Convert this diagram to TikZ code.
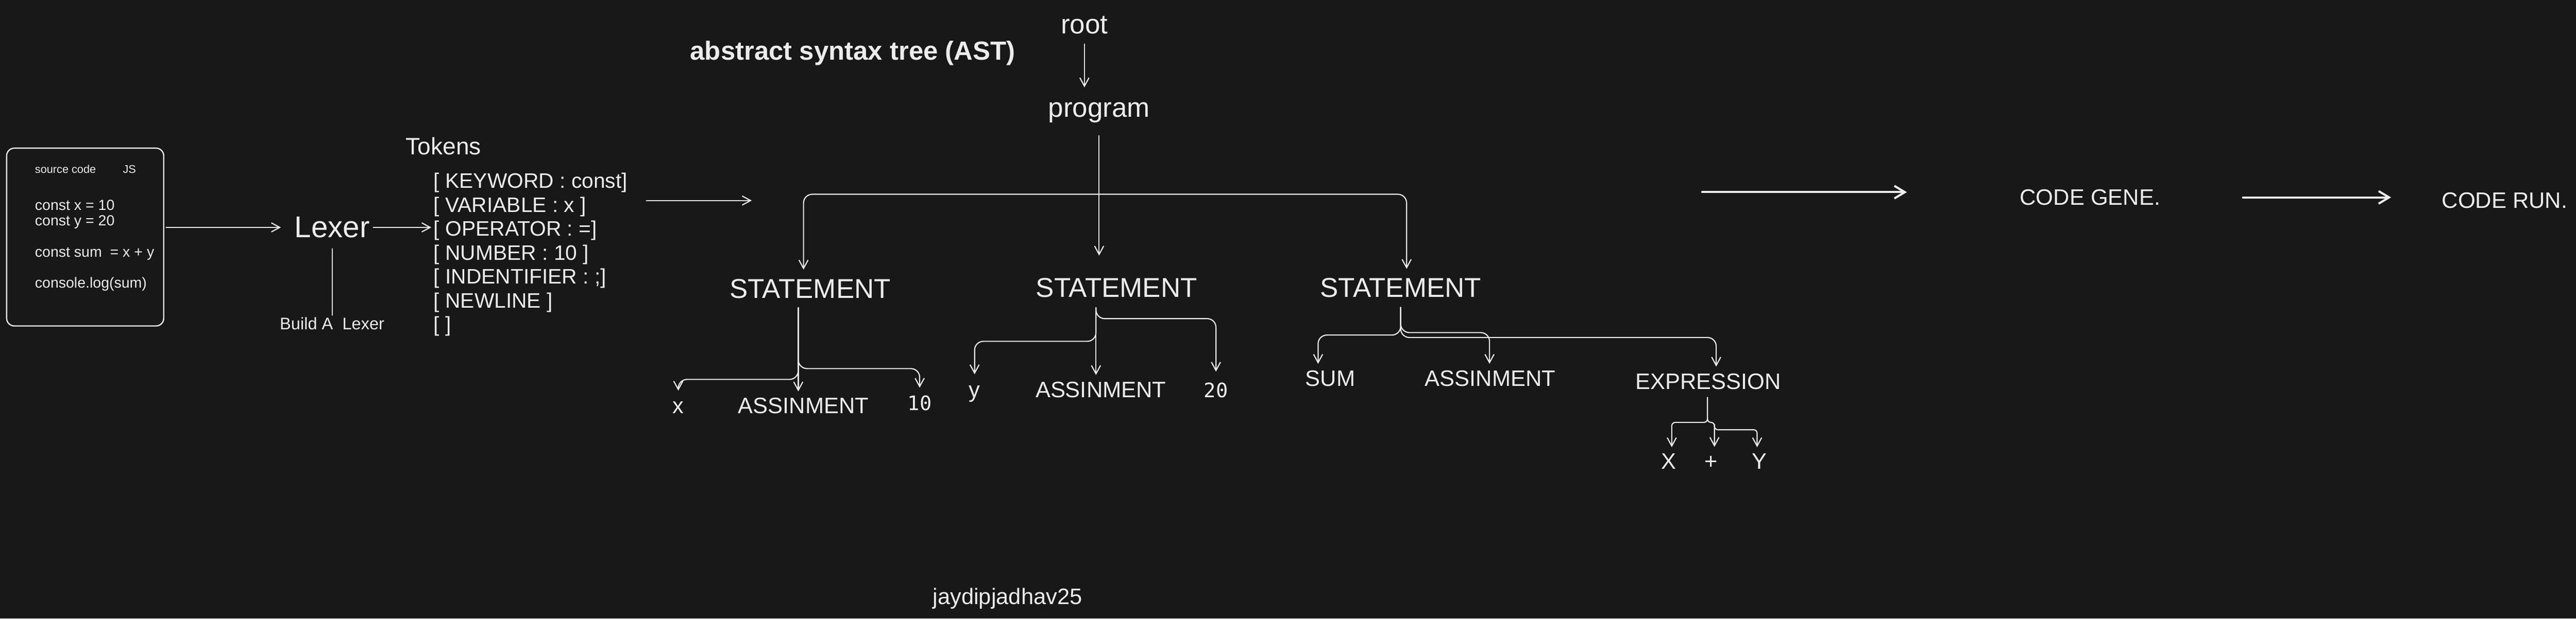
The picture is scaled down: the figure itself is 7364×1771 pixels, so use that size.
\documentclass[tikz,border=0pt]{standalone}
\usepackage{fontspec}
\setmainfont{Liberation Sans}
\newfontfamily\codefont{DejaVu Sans Mono}
\usetikzlibrary{arrows.meta}
\definecolor{bgc}{HTML}{181818}
\definecolor{fg}{HTML}{ECECEC}
\begin{document}
\begin{tikzpicture}[x=0.1pt, y=-0.1pt,
  lbl/.style={text=fg, inner sep=0pt, outer sep=0pt, font=\fontsize{#1pt}{#1pt}\selectfont},
  codelbl/.style={text=fg, inner sep=0pt, outer sep=0pt, font=\fontsize{#1pt}{#1pt}\codefont},
  boldlbl/.style={text=fg, inner sep=0pt, outer sep=0pt, font=\fontsize{#1pt}{#1pt}\selectfont\bfseries},
  ln/.style={draw=fg, line width=0.32pt, line cap=round, line join=round},
  arr/.style={ln, -{Straight Barb[length=2.4pt, width=2.6pt]}},
  bigarr/.style={draw=fg, line width=0.6pt, line cap=round, -{Straight Barb[length=3pt, width=3.6pt]}},
  tree/.style={arr, rounded corners=2.5pt},
  smalltree/.style={arr, rounded corners=1pt}]

\fill[bgc] (0,0) rectangle (7364,1771);
\useasboundingbox (0,0) rectangle (7364,1771);

% source code box
\node[draw=fg, line width=0.35pt, rounded corners=2.2pt, minimum width=44.9pt, minimum height=50.9pt, inner sep=0pt] (box) at (243.5,678.5) {};
\node[lbl=3.2, anchor=base west] (srclbl) at (100,495) {source code};
\node[lbl=3.2, anchor=base] (js) at (370,495) {JS};
\node[lbl=4.2, anchor=base west] (c1) at (100,601) {const x = 10};
\node[lbl=4.2, anchor=base west] (c2) at (100,646) {const y = 20};
\node[lbl=4.2, anchor=base west] (c3) at (100,735) {const sum\ \ = x + y};
\node[lbl=4.2, anchor=base west] (c4) at (100,824) {console.log(sum)};

% lexer
\node[lbl=8.6, anchor=base west] (lexer) at (842,680) {Lexer};
\node[lbl=4.8, anchor=base west] (build) at (800,944) {Build A\ \ Lexer};

% tokens
\node[lbl=6.8, anchor=base west] (tokens) at (1160,442) {Tokens};
\node[lbl=6.0, anchor=base west] (t1) at (1240,539) {[ KEYWORD : const]};
\node[lbl=6.0, anchor=base west] (t2) at (1240,607) {[ VARIABLE : x ]};
\node[lbl=6.0, anchor=base west] (t3) at (1240,675) {[ OPERATOR : =]};
\node[lbl=6.0, anchor=base west] (t4) at (1240,744) {[ NUMBER : 10 ]};
\node[lbl=6.0, anchor=base west] (t5) at (1240,812) {[ INDENTIFIER : ;]};
\node[lbl=6.0, anchor=base west] (t6) at (1240,881) {[ NEWLINE ]};
\node[lbl=6.0, anchor=base west] (t7) at (1240,949) {[ ]};

% AST
\node[boldlbl=7.5, anchor=base west] (ast) at (1973,172) {abstract syntax tree (AST)};
\node[lbl=7.8, anchor=base] (root) at (3100,97) {root};
\node[lbl=7.8, anchor=base] (program) at (3142,335) {program};
\node[lbl=7.8, anchor=base] (st1) at (2316,853) {STATEMENT};
\node[lbl=7.8, anchor=base] (st2) at (3192,851) {STATEMENT};
\node[lbl=7.8, anchor=base] (st3) at (4004,851) {STATEMENT};

\node[lbl=6.4, anchor=base] (x1) at (1939,1184) {x};
\node[lbl=6.4, anchor=base] (as1) at (2297,1184) {ASSINMENT};
\node[codelbl=5.7, anchor=base] (n10) at (2629,1174) {10};

\node[lbl=6.4, anchor=base] (y2) at (2786,1138) {y};
\node[lbl=6.4, anchor=base] (as2) at (3147,1138) {ASSINMENT};
\node[codelbl=5.7, anchor=base] (n20) at (3476,1138) {20};

\node[lbl=6.4, anchor=base] (sum) at (3803,1106) {SUM};
\node[lbl=6.4, anchor=base] (as3) at (4260,1106) {ASSINMENT};
\node[lbl=6.4, anchor=base] (expr) at (4883,1114) {EXPRESSION};

\node[lbl=6.4, anchor=base] (X) at (4770,1343) {X};
\node[lbl=6.4, anchor=base] (plus) at (4891,1343) {+};
\node[lbl=6.4, anchor=base] (Y) at (5029,1343) {Y};

\node[lbl=6.4, anchor=base] (codegen) at (5975,587) {CODE GENE.};
\node[lbl=6.4, anchor=base] (coderun) at (7160,596) {CODE RUN.};

\node[lbl=6.4, anchor=base] (author) at (2880,1730) {jaydipjadhav25};

% connectors: source -> lexer -> tokens
\draw[arr, shorten <=0.5pt, shorten >=3.9pt] (box.east |- lexer.west) -- (lexer.west);
\draw[arr, shorten <=1pt, shorten >=0.7pt] (lexer.east) -- (lexer.east -| t3.west);
\draw[ln, shorten <=3.1pt, shorten >=0.7pt] (lexer.south) -- (lexer.south |- build.north);

% tokens -> AST
\coordinate (astin) at (2149,574);
\draw[arr, shorten <=17.2pt] (astin -| t2.east) -- (astin);

% root -> program
\draw[arr, shorten <=2.8pt, shorten >=4.3pt] (root.south) -- (root.south |- program.north);

% program -> statements
\coordinate (ps) at ([yshift=-3.7pt]program.south);
\draw[arr, shorten >=6.5pt] (ps) -- (ps |- st2.north);
\coordinate (brk) at (ps |- 0,556);
\draw[tree] (brk) -- (2297,556) -- ([xshift=-1.9pt,yshift=2.7pt]st1.north);
\draw[tree] (brk) -- (4021,556) -- ([xshift=1.7pt,yshift=2.7pt]st3.north);

% statement 1
\coordinate (s1) at ([xshift=-3.4pt,yshift=-2.7pt]st1.south);
\draw[tree] (s1) -- (s1 |- 0,1086) -- (1939,1086) -- ([yshift=3.2pt]x1.north);
\draw[arr, shorten >=1.9pt] (s1) -- (s1 |- as1.north);
\draw[tree] (s1) -- (s1 |- 0,1055) -- (2629,1055) -- ([yshift=2.2pt]n10.north);

% statement 2
\coordinate (s2) at ([xshift=-5.9pt,yshift=-2.9pt]st2.south);
\draw[tree] (s2) -- (s2 |- 0,977) -- (2786,977) -- ([yshift=3.3pt]y2.north);
\draw[arr, shorten >=2pt] (s2) -- (s2 |- as2.north);
\draw[tree] (s2) -- (s2 |- 0,912) -- (3476,912) -- ([yshift=3.2pt]n20.north);

% statement 3
\coordinate (s3) at ([yshift=-2.8pt]st3.south);
\draw[tree] (s3) -- (s3 |- 0,959) -- (3768,959) -- ([xshift=-3.5pt,yshift=2pt]sum.north);
\draw[tree] (s3) -- (s3 |- 0,952) -- (4258,952) -- ([xshift=-0.2pt,yshift=2pt]as3.north);
\draw[tree] (s3) -- (s3 |- 0,966) -- (4906,966) -- ([xshift=2.3pt,yshift=2pt]expr.north);

% expression
\coordinate (e0) at ([xshift=-0.2pt,yshift=-2.3pt]expr.south);
\draw[smalltree] (e0) -- (e0 |- 0,1209) -- (4779,1209) -- ([xshift=0.9pt,yshift=1.9pt]X.north);
\draw[smalltree] (e0) -- (e0 |- 0,1209) -- (4901,1209) -- ([xshift=1pt,yshift=2.7pt]plus.north);
\draw[smalltree] (4901,1215) -- (4901,1230) -- (5023,1230) -- ([xshift=-0.6pt,yshift=1.9pt]Y.north);

% code generation / run
\coordinate (cgin) at (4866,550);
\draw[bigarr, shorten >=32.3pt] (cgin) -- (cgin -| codegen.west);
\draw[bigarr, shorten <=23.6pt, shorten >=14.5pt] (codegen.east) -- (codegen.east -| coderun.west);

\end{tikzpicture}
\end{document}
